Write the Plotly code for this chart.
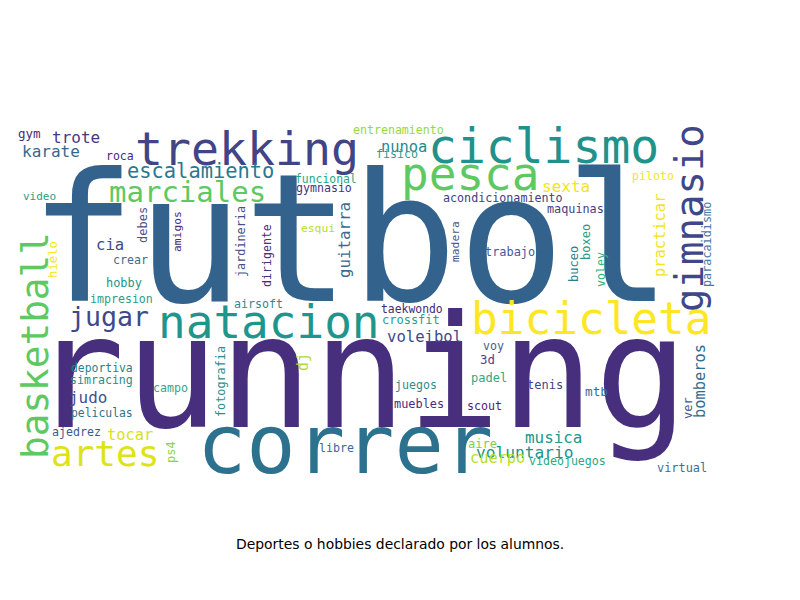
import plotly.graph_objects as go

# words of the cloud and their weight (weight = rendered font size in px)
words = [
    "futbol", "running", "correr", "trekking", "ciclismo", "natacion", "pesca",
    "bicicleta", "gimnasio", "basketball", "artes", "marciales", "jugar",
    "escalamiento", "trote", "karate", "gym", "roca", "video", "funcional",
    "gymnasio", "cia", "esqui", "crear", "hobby", "impresion", "airsoft",
    "deportiva", "simracing", "judo", "campo", "peliculas", "ajedrez", "tocar",
    "libre", "entrenamiento", "nunoa", "fisico", "sexta", "piloto",
    "acondicionamiento", "maquinas", "trabajo", "taekwondo", "crossfit",
    "voleibol", "voy", "3d", "padel", "juegos", "tenis", "mtb", "muebles",
    "scout", "musica", "aire", "voluntario", "cuerpo", "videojuegos", "virtual",
    "hielo", "debes", "amigos", "jardineria", "dirigente", "guitarra", "dj",
    "fotografia", "ps4", "madera", "practicar", "buceo", "boxeo", "voley",
    "paracaidismo", "bomberos", "ver",
]
weights = [
    178, 156, 82, 46.5, 48, 46, 46,
    44.4, 39, 37.7, 36, 29, 26.6,
    20.4, 16, 16, 12.5, 11.5, 11, 11.4,
    11.6, 15.6, 11.3, 11.6, 11.9, 11.6, 11.6,
    11.4, 11.6, 15.9, 11.6, 11.4, 11.6, 15.4,
    11.6, 11.6, 15.4, 11.6, 16, 11.6,
    11.7, 11.8, 11.9, 11.4, 12,
    15.6, 11.6, 12.4, 12, 11.6, 12, 12.7, 11.9,
    11.6, 15.9, 12, 16.2, 15.3, 11.6, 11.9,
    12.3, 12, 11.3, 11.8, 11.6, 15.8, 15,
    11.8, 12, 11.3, 15.4, 12, 12, 11.6,
    11.8, 15.4, 12,
]
vertical = [
    "gimnasio", "basketball", "hielo", "debes", "amigos", "jardineria",
    "dirigente", "guitarra", "dj", "fotografia", "ps4", "madera", "practicar",
    "buceo", "boxeo", "voley", "paracaidismo", "bomberos", "ver",
]
colors = [
    "#33638d", "#472f7d", "#2c728e", "#414487", "#21918c", "#1f968b", "#5ec962",
    "#fde725", "#3f4788", "#5ec962", "#dde318", "#5ec962", "#3e4a89",
    "#2a788e", "#443983", "#35698e", "#472c7a", "#4b2779", "#2a9e8a", "#22a884",
    "#46337e", "#3e4a89", "#b5de2b", "#3b6e8e", "#25938c", "#2a9d8c", "#35868d",
    "#26828e", "#2b8b8c", "#3b528b", "#35a58a", "#31708e", "#3b5b8b", "#d8e219",
    "#42649a", "#95d840", "#26898e", "#2a9d8a", "#f2e51d", "#f6e620",
    "#443b84", "#433e85", "#48599a", "#482878", "#27a08a",
    "#3e4a89", "#4a5a94", "#55388a", "#2ea883", "#2f8b8c", "#414487", "#3b6e9a", "#4d2a7c",
    "#4b1f6f", "#22978b", "#7ad151", "#20938c", "#b8de29", "#25a885", "#3b6e9a",
    "#f6e620", "#47508a", "#4b2a7c", "#464f8a", "#4a2f7e", "#3d6b8f", "#addc30",
    "#2b8f8c", "#86d549", "#47558c", "#f1e51d", "#2c7f8e", "#2a9a8a", "#2eb37c",
    "#4a78a5", "#2f6c8e", "#47598c",
]

# placement of each word in the cloud (pixel grid of the page)
positions = [
    (350, 239), (359, 373), (345, 444), (247, 149), (543, 146), (269, 322), (470, 174),
    (591, 318), (689, 218), (35, 346), (105, 453), (187, 192), (109, 316),
    (200, 171), (76, 137), (51, 151), (29, 133), (120, 156), (39, 196), (326, 179),
    (324, 188), (110, 245), (318, 228), (130, 260), (124, 283), (121, 299), (258, 304),
    (102, 368), (101, 380), (88, 397), (170, 388), (102, 413), (76, 432), (130, 435),
    (336, 448), (398, 130), (404, 147), (397, 154), (566, 186), (653, 176),
    (503, 198), (575, 209), (510, 252), (412, 309), (411, 320),
    (424, 337), (493, 346), (487, 359), (489, 378), (416, 385), (545, 385), (596, 391), (419, 404),
    (484, 406), (553, 437), (482, 444), (524, 452), (497, 458), (567, 461), (682, 468),
    (53, 260), (143, 225), (177, 232), (241, 242), (267, 256), (344, 240), (303, 362),
    (221, 382), (171, 452), (455, 242), (660, 236), (574, 264), (586, 242), (601, 270),
    (707, 245), (700, 381), (688, 408),
]

caption = "Deportes o hobbies declarado por los alumnos."

annotations = []
for word, w, c, (px, py) in zip(words, weights, colors, positions):
    annotations.append(dict(
        x=px, y=py, xref="x", yref="y",
        text=word, showarrow=False,
        xanchor="center", yanchor="middle",
        textangle=-90 if word in vertical else 0,
        font=dict(family="DejaVu Sans Mono", size=w, color=c),
    ))

annotations.append(dict(
    x=400, y=544, xref="x", yref="y", text=caption, showarrow=False,
    xanchor="center", yanchor="middle",
    font=dict(family="DejaVu Sans", size=13.9, color="black"),
))

# the page body has an 8px margin, so the figure is 784x584 and the
# axis ranges start at 8 to keep the page pixel grid
fig = go.Figure()
fig.add_trace(go.Scatter(x=[], y=[], showlegend=False))
fig.update_layout(
    width=784, height=584,
    margin=dict(l=0, r=0, t=0, b=0),
    paper_bgcolor="white", plot_bgcolor="white",
    xaxis=dict(range=[8, 792], visible=False, fixedrange=True),
    yaxis=dict(range=[592, 8], visible=False, fixedrange=True),
    annotations=annotations,
    showlegend=False,
)
fig.write_html("out.html")
